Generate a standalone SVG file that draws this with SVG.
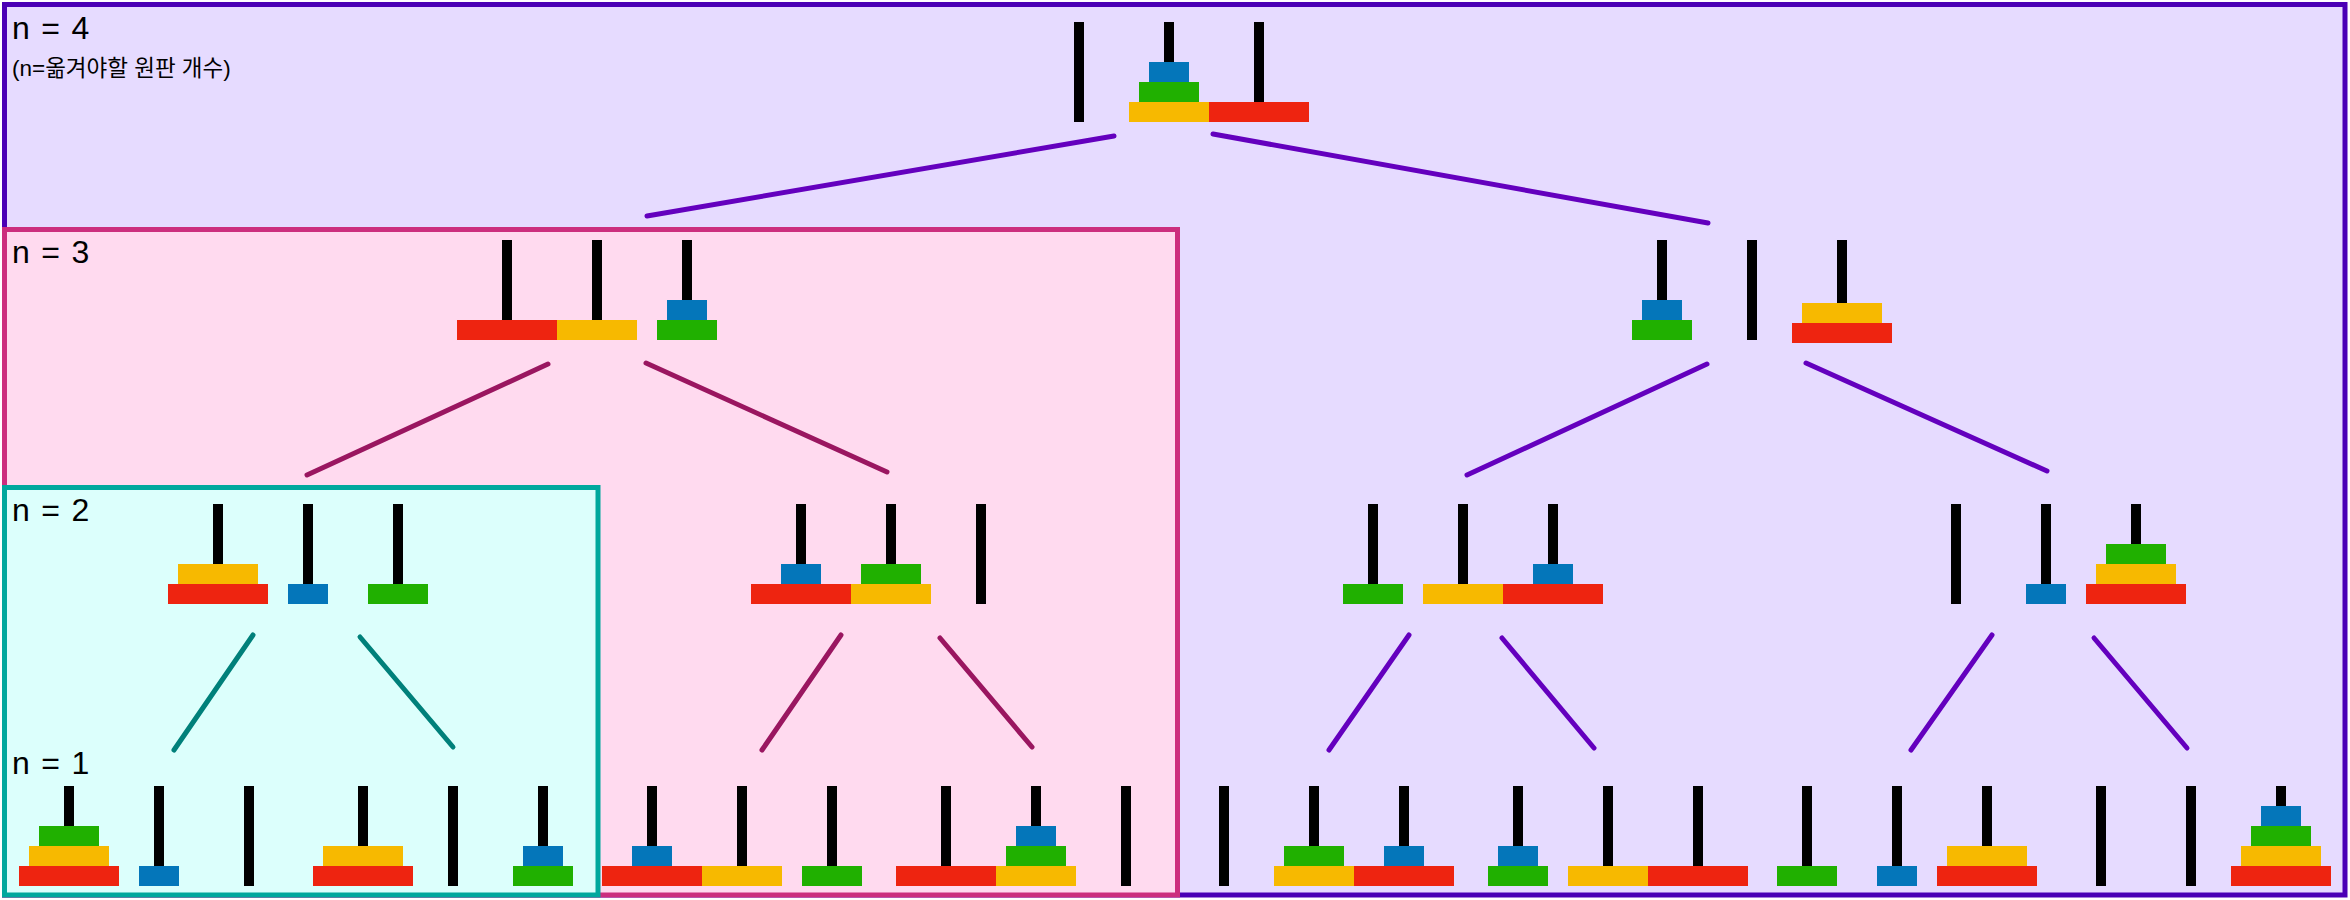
<svg xmlns="http://www.w3.org/2000/svg" width="2350" height="900" viewBox="0 0 2350 900">
<style>
.p{fill:#000}
.r{fill:#EE2410}
.y{fill:#F7B900}
.g{fill:#20B000}
.b{fill:#0476BA}
.lbl{font-family:"Liberation Sans",Arial,sans-serif;font-size:32px;letter-spacing:1.3px;fill:#000}
.sub{font-family:"Liberation Sans","Noto Sans CJK KR",sans-serif;font-size:22.5px;fill:#000}
.c4{stroke:#6400BE}
.c3{stroke:#9A1660}
.c2{stroke:#00807A}
#connectors line{stroke-width:5;stroke-linecap:round;fill:none}
</style>
<g id="box-n4"><rect x="4.5" y="4.5" width="2340.5" height="890.5" fill="#E6DBFF" stroke="#4A00B5" stroke-width="5"/></g>
<g id="box-n3"><rect x="4.5" y="229.5" width="1173" height="665.5" fill="#FFDAEF" stroke="#CC2E7E" stroke-width="5"/></g>
<g id="box-n2"><rect x="4.5" y="487.5" width="593.5" height="407.5" fill="#DCFFFC" stroke="#00A89D" stroke-width="5"/></g>
<g id="connectors">
<line class="c4" x1="1114" y1="136" x2="647" y2="216"/>
<line class="c4" x1="1213" y1="134" x2="1708" y2="223"/>
<line class="c3" x1="548" y1="364" x2="307" y2="475"/>
<line class="c3" x1="646" y1="363" x2="887" y2="472"/>
<line class="c4" x1="1707" y1="364" x2="1467" y2="475"/>
<line class="c4" x1="1806" y1="363" x2="2047" y2="471"/>
<line class="c2" x1="253" y1="635" x2="174" y2="750"/>
<line class="c2" x1="360" y1="637" x2="453" y2="747"/>
<line class="c3" x1="841" y1="635" x2="762" y2="750"/>
<line class="c3" x1="940" y1="638" x2="1032" y2="747"/>
<line class="c4" x1="1409" y1="635" x2="1329" y2="750"/>
<line class="c4" x1="1502" y1="638" x2="1594" y2="748"/>
<line class="c4" x1="1992" y1="635" x2="1911" y2="750"/>
<line class="c4" x1="2094" y1="638" x2="2187" y2="748"/>
</g>
<g id="node-root">
<rect class="p" x="1074" y="22" width="10" height="100"/><rect class="p" x="1164" y="22" width="10" height="100"/><rect class="p" x="1254" y="22" width="10" height="100"/>
<rect class="y" x="1129" y="102" width="80" height="20"/><rect class="g" x="1139" y="82" width="60" height="20"/><rect class="b" x="1149" y="62" width="40" height="20"/>
<rect class="r" x="1209" y="102" width="100" height="20"/>
</g>
<g id="node-n3a">
<rect class="p" x="502" y="240" width="10" height="100"/><rect class="p" x="592" y="240" width="10" height="100"/><rect class="p" x="682" y="240" width="10" height="100"/>
<rect class="r" x="457" y="320" width="100" height="20"/><rect class="y" x="557" y="320" width="80" height="20"/>
<rect class="g" x="657" y="320" width="60" height="20"/><rect class="b" x="667" y="300" width="40" height="20"/>
</g>
<g id="node-n3b">
<rect class="p" x="1657" y="240" width="10" height="100"/><rect class="p" x="1747" y="240" width="10" height="100"/><rect class="p" x="1837" y="240" width="10" height="100"/>
<rect class="g" x="1632" y="320" width="60" height="20"/><rect class="b" x="1642" y="300" width="40" height="20"/>
<rect class="r" x="1792" y="323" width="100" height="20"/><rect class="y" x="1802" y="303" width="80" height="20"/>
</g>
<g id="node-n2a">
<rect class="p" x="213" y="504" width="10" height="100"/><rect class="p" x="303" y="504" width="10" height="100"/><rect class="p" x="393" y="504" width="10" height="100"/>
<rect class="r" x="168" y="584" width="100" height="20"/><rect class="y" x="178" y="564" width="80" height="20"/>
<rect class="b" x="288" y="584" width="40" height="20"/><rect class="g" x="368" y="584" width="60" height="20"/>
</g>
<g id="node-n2b">
<rect class="p" x="796" y="504" width="10" height="100"/><rect class="p" x="886" y="504" width="10" height="100"/><rect class="p" x="976" y="504" width="10" height="100"/>
<rect class="r" x="751" y="584" width="100" height="20"/><rect class="b" x="781" y="564" width="40" height="20"/>
<rect class="y" x="851" y="584" width="80" height="20"/><rect class="g" x="861" y="564" width="60" height="20"/>
</g>
<g id="node-n2c">
<rect class="p" x="1368" y="504" width="10" height="100"/><rect class="p" x="1458" y="504" width="10" height="100"/><rect class="p" x="1548" y="504" width="10" height="100"/>
<rect class="g" x="1343" y="584" width="60" height="20"/><rect class="y" x="1423" y="584" width="80" height="20"/>
<rect class="r" x="1503" y="584" width="100" height="20"/><rect class="b" x="1533" y="564" width="40" height="20"/>
</g>
<g id="node-n2d">
<rect class="p" x="1951" y="504" width="10" height="100"/><rect class="p" x="2041" y="504" width="10" height="100"/><rect class="p" x="2131" y="504" width="10" height="100"/>
<rect class="b" x="2026" y="584" width="40" height="20"/>
<rect class="r" x="2086" y="584" width="100" height="20"/><rect class="y" x="2096" y="564" width="80" height="20"/><rect class="g" x="2106" y="544" width="60" height="20"/>
</g>
<g id="node-n1-1">
<rect class="p" x="64" y="786" width="10" height="100"/><rect class="p" x="154" y="786" width="10" height="100"/><rect class="p" x="244" y="786" width="10" height="100"/>
<rect class="r" x="19" y="866" width="100" height="20"/><rect class="y" x="29" y="846" width="80" height="20"/><rect class="g" x="39" y="826" width="60" height="20"/>
<rect class="b" x="139" y="866" width="40" height="20"/>
</g>
<g id="node-n1-2">
<rect class="p" x="358" y="786" width="10" height="100"/><rect class="p" x="448" y="786" width="10" height="100"/><rect class="p" x="538" y="786" width="10" height="100"/>
<rect class="r" x="313" y="866" width="100" height="20"/><rect class="y" x="323" y="846" width="80" height="20"/>
<rect class="g" x="513" y="866" width="60" height="20"/><rect class="b" x="523" y="846" width="40" height="20"/>
</g>
<g id="node-n1-3">
<rect class="p" x="647" y="786" width="10" height="100"/><rect class="p" x="737" y="786" width="10" height="100"/><rect class="p" x="827" y="786" width="10" height="100"/>
<rect class="r" x="602" y="866" width="100" height="20"/><rect class="b" x="632" y="846" width="40" height="20"/>
<rect class="y" x="702" y="866" width="80" height="20"/><rect class="g" x="802" y="866" width="60" height="20"/>
</g>
<g id="node-n1-4">
<rect class="p" x="941" y="786" width="10" height="100"/><rect class="p" x="1031" y="786" width="10" height="100"/><rect class="p" x="1121" y="786" width="10" height="100"/>
<rect class="r" x="896" y="866" width="100" height="20"/>
<rect class="y" x="996" y="866" width="80" height="20"/><rect class="g" x="1006" y="846" width="60" height="20"/><rect class="b" x="1016" y="826" width="40" height="20"/>
</g>
<g id="node-n1-5">
<rect class="p" x="1219" y="786" width="10" height="100"/><rect class="p" x="1309" y="786" width="10" height="100"/><rect class="p" x="1399" y="786" width="10" height="100"/>
<rect class="y" x="1274" y="866" width="80" height="20"/><rect class="g" x="1284" y="846" width="60" height="20"/>
<rect class="r" x="1354" y="866" width="100" height="20"/><rect class="b" x="1384" y="846" width="40" height="20"/>
</g>
<g id="node-n1-6">
<rect class="p" x="1513" y="786" width="10" height="100"/><rect class="p" x="1603" y="786" width="10" height="100"/><rect class="p" x="1693" y="786" width="10" height="100"/>
<rect class="g" x="1488" y="866" width="60" height="20"/><rect class="b" x="1498" y="846" width="40" height="20"/>
<rect class="y" x="1568" y="866" width="80" height="20"/><rect class="r" x="1648" y="866" width="100" height="20"/>
</g>
<g id="node-n1-7">
<rect class="p" x="1802" y="786" width="10" height="100"/><rect class="p" x="1892" y="786" width="10" height="100"/><rect class="p" x="1982" y="786" width="10" height="100"/>
<rect class="g" x="1777" y="866" width="60" height="20"/><rect class="b" x="1877" y="866" width="40" height="20"/>
<rect class="r" x="1937" y="866" width="100" height="20"/><rect class="y" x="1947" y="846" width="80" height="20"/>
</g>
<g id="node-n1-8">
<rect class="p" x="2096" y="786" width="10" height="100"/><rect class="p" x="2186" y="786" width="10" height="100"/><rect class="p" x="2276" y="786" width="10" height="100"/>
<rect class="r" x="2231" y="866" width="100" height="20"/><rect class="y" x="2241" y="846" width="80" height="20"/><rect class="g" x="2251" y="826" width="60" height="20"/><rect class="b" x="2261" y="806" width="40" height="20"/>
</g>
<g id="labels">
<text class="lbl" x="12" y="39">n = 4</text>
<text class="sub" x="12" y="76">(n=옮겨야할 원판 개수)</text>
<text class="lbl" x="12" y="263">n = 3</text>
<text class="lbl" x="12" y="521">n = 2</text>
<text class="lbl" x="12" y="774">n = 1</text>
</g>
</svg>
